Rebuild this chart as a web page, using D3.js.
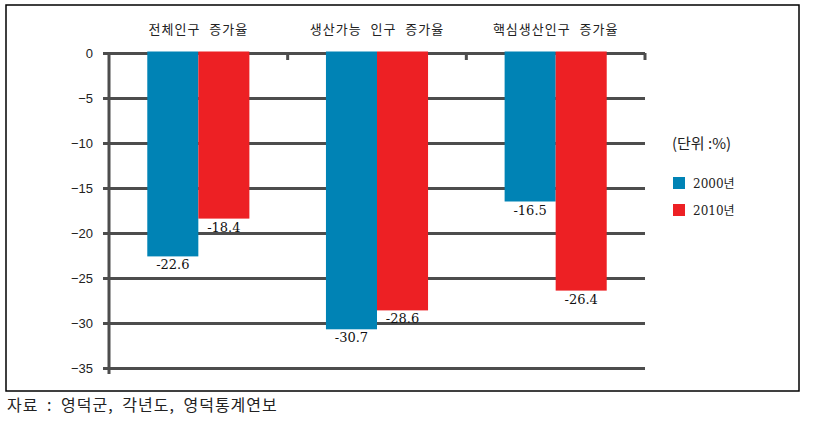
<!DOCTYPE html>
<html>
<head>
<meta charset="utf-8">
<script src="https://cdn.jsdelivr.net/npm/d3@7"></script>
<style>
  body { margin: 0; background: #fff; }
  svg { display: block; }
</style>
</head>
<body>
<svg width="821" height="424"></svg>
<script>
const categories = ["전체인구 증가율", "생산가능 인구 증가율", "핵심생산인구 증가율"];
const series = ["2000년", "2010년"];
const values2000 = [-22.6, -30.7, -16.5];
const values2010 = [-18.4, -28.6, -26.4];
const yTicks = [0, -5, -10, -15, -20, -25, -30, -35];
const colors = ["#0083b5", "#ed2024"];
const unitLabel = "(단위 :%)";
const sourceText = "자료 : 영덕군, 각년도, 영덕통계연보";

const svg = d3.select("svg");
const gridColor = "#4d4d4d";
const sansKR = "'Noto Sans CJK KR', sans-serif";

// frame
svg.append("rect")
  .attr("x", 6).attr("y", 5)
  .attr("width", 793).attr("height", 386)
  .attr("fill", "#fff")
  .attr("stroke", "#000")
  .attr("stroke-width", 1.5);

const x = d3.scaleBand().domain(categories).range([109, 645]);
const xSub = d3.scaleBand().domain(series).range([0, x.bandwidth()]).paddingOuter(0.75);
const y = d3.scaleLinear().domain([-35, 0]).range([368, 53]);

// y axis + grid
const yAxis = svg.append("g")
  .attr("transform", "translate(109,0)")
  .call(d3.axisLeft(y).tickValues(yTicks).tickSize(-(645 - 109)).tickPadding(16));
yAxis.select(".domain").remove();
yAxis.selectAll(".tick line")
  .attr("x1", -6)
  .attr("stroke", gridColor)
  .attr("stroke-width", 3);
yAxis.selectAll(".tick text")
  .attr("fill", "#222")
  .attr("font-family", "'Liberation Sans', Arial, sans-serif")
  .attr("font-size", 13);

// small ticks at category boundaries under the zero line
svg.append("g")
  .selectAll("line")
  .data(categories)
  .join("line")
  .attr("x1", (d) => x(d) + x.bandwidth())
  .attr("x2", (d) => x(d) + x.bandwidth())
  .attr("y1", y(0))
  .attr("y2", y(0) + 7)
  .attr("stroke", gridColor)
  .attr("stroke-width", 3);

// vertical axis line
svg.append("line")
  .attr("x1", 109).attr("x2", 109)
  .attr("y1", y(0)).attr("y2", y(-35) + 6)
  .attr("stroke", gridColor)
  .attr("stroke-width", 3);

// bars
const rows = categories.map((c, i) => ({
  cat: c,
  vals: [
    { s: series[0], v: values2000[i] },
    { s: series[1], v: values2010[i] }
  ]
}));

const groups = svg.append("g")
  .selectAll("g")
  .data(rows)
  .join("g")
  .attr("transform", (d) => `translate(${x(d.cat)},0)`);

groups.selectAll("rect")
  .data((d) => d.vals)
  .join("rect")
  .attr("x", (d) => xSub(d.s))
  .attr("y", y(0) - 1.5)
  .attr("width", xSub.bandwidth())
  .attr("height", (d) => y(d.v) - y(0) + 1.5)
  .attr("fill", (d, i) => colors[i]);

groups.selectAll("text.val")
  .data((d) => d.vals)
  .join("text")
  .attr("class", "val")
  .attr("x", (d) => xSub(d.s) + xSub.bandwidth() / 2)
  .attr("y", (d) => y(d.v) + 13)
  .attr("text-anchor", "middle")
  .attr("font-family", "'DejaVu Serif', serif")
  .attr("font-size", 13)
  .attr("fill", "#111")
  .text((d) => "-" + Math.abs(d.v).toFixed(1));

// category titles
svg.append("g")
  .selectAll("text")
  .data(categories)
  .join("text")
  .attr("x", (d) => x(d) + x.bandwidth() / 2)
  .attr("y", 34)
  .attr("text-anchor", "middle")
  .attr("font-family", sansKR)
  .attr("font-size", 13)
  .attr("letter-spacing", 1)
  .attr("word-spacing", 5)
  .attr("fill", "#222")
  .text((d) => d);

// legend
svg.append("text")
  .attr("x", 672).attr("y", 149)
  .attr("font-family", sansKR)
  .attr("font-size", 15)
  .attr("fill", "#222")
  .text(unitLabel);

const legend = svg.append("g")
  .selectAll("g")
  .data(series)
  .join("g")
  .attr("transform", (d, i) => `translate(673,${177 + i * 27})`);

legend.append("rect")
  .attr("width", 12).attr("height", 12)
  .attr("fill", (d, i) => colors[i]);

legend.append("text")
  .attr("x", 20).attr("y", 11)
  .attr("font-family", "'DejaVu Serif', 'Noto Sans CJK KR', serif")
  .attr("font-size", 12)
  .attr("fill", "#222")
  .text((d) => d);

// source
svg.append("text")
  .attr("x", 7).attr("y", 411)
  .attr("font-family", sansKR)
  .attr("font-size", 16)
  .attr("letter-spacing", 1)
  .attr("word-spacing", 4)
  .attr("fill", "#222")
  .text(sourceText);
</script>
</body>
</html>
